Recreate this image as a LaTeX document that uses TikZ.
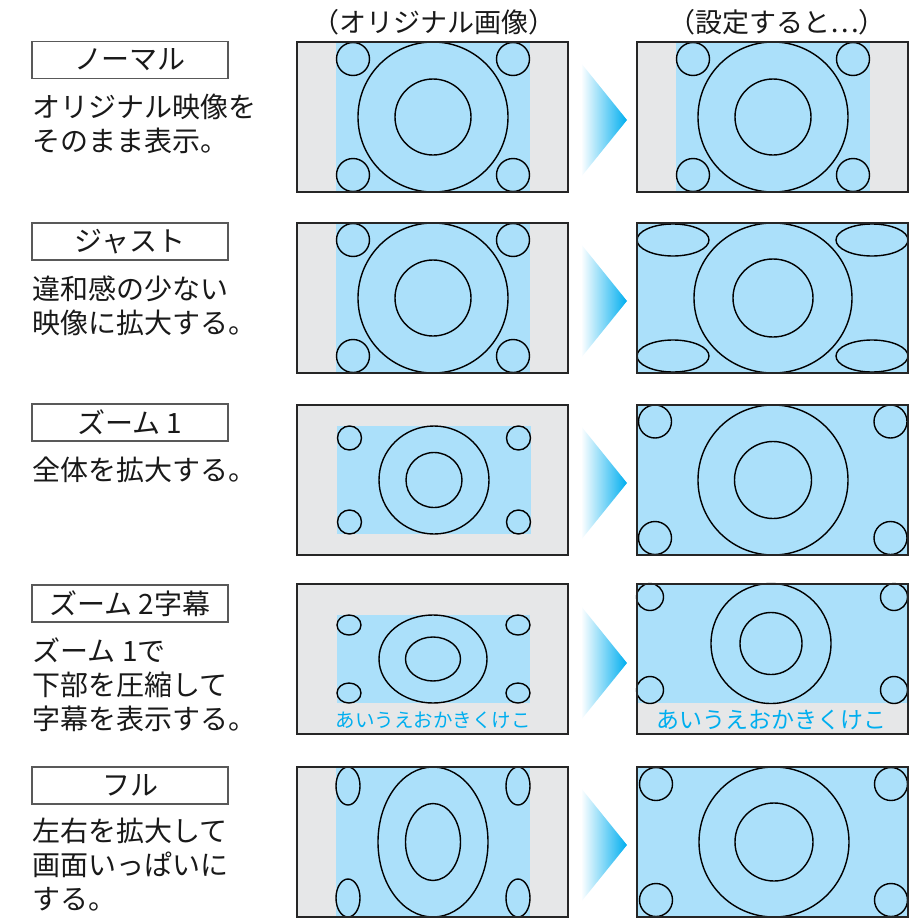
\documentclass[tikz,border=0pt]{standalone}
\usepackage{fontspec}
\setmainfont{Noto Sans CJK JP}
\usepackage{tikz}
\usetikzlibrary{positioning, calc}

\definecolor{picblue}{RGB}{171,224,250}
\definecolor{bargray}{RGB}{230,231,232}
\definecolor{subcyan}{RGB}{0,174,239}

\begin{document}
\begin{tikzpicture}[
    x=1pt, y=-1pt,
    modebox/.style={rectangle, draw=black!65, line width=1.2pt, minimum width=196pt, minimum height=37pt, inner sep=0pt, text=black!90, font=\fontsize{28}{28}\selectfont},
    desc/.style={align=left, inner sep=0pt, text=black!90, font=\fontsize{28}{34}\selectfont},
    colhead/.style={inner sep=0pt, text=black!90, font=\fontsize{27}{27}\selectfont},
    scrframe/.style={draw=black!85, line width=1.6pt},
    outline/.style={draw=black, line width=1.4pt},
    subtitle/.style={inner sep=0pt, text=subcyan},
    fadearrow/.style={left color=white, right color=subcyan}
]
    \useasboundingbox (0,0) rectangle (922,921);

    % Column heads
    \node [colhead] (orighead) at (434,22) {（オリジナル画像）};
    \node [colhead] (sethead) at (777,22) {（設定すると…）};

    % Mode labels and descriptions
    \node [modebox] (normal) at (130,60) {ノーマル};
    \node [desc, below right=15pt and 1pt of normal.south west] (normaldesc) {オリジナル映像を\\そのまま表示。};
    \node [modebox] (just) at (130,241.5) {ジャスト};
    \node [desc, below right=15pt and 1pt of just.south west] (justdesc) {違和感の少ない\\映像に拡大する。};
    \node [modebox] (zoomone) at (130,422.5) {ズーム 1};
    \node [desc, below right=15pt and 1pt of zoomone.south west] (zoomonedesc) {全体を拡大する。};
    \node [modebox] (zoomtwo) at (130,603.5) {ズーム 2字幕};
    \node [desc, below right=15pt and 1pt of zoomtwo.south west] (zoomtwodesc) {ズーム 1で\\下部を圧縮して\\字幕を表示する。};
    \node [modebox] (full) at (130,785.5) {フル};
    \node [desc, below right=13pt and 1pt of full.south west] (fulldesc) {左右を拡大して\\画面いっぱいに\\する。};

    % Normal screens
    \fill [bargray] (297,42) rectangle (568,192);
    \fill [picblue] (336,42) rectangle (530,192);
    \draw [outline] (433,117) circle [radius=75] (433,117) circle [radius=38];
    \draw [outline] (353,59) circle [radius=16.5] (513,59) circle [radius=16.5] (353,175) circle [radius=16.5] (513,175) circle [radius=16.5];
    \draw [scrframe] (297,42) rectangle (568,192);
    \shade [fadearrow] (581,63) -- (581,177) -- (627,120) -- cycle;
    \fill [bargray] (637,42) rectangle (908,192);
    \fill [picblue] (676,42) rectangle (870,192);
    \draw [outline] (773,117) circle [radius=75] (773,117) circle [radius=38];
    \draw [outline] (693,59) circle [radius=16.5] (853,59) circle [radius=16.5] (693,175) circle [radius=16.5] (853,175) circle [radius=16.5];
    \draw [scrframe] (637,42) rectangle (908,192);

    % Just screens
    \fill [bargray] (297,223) rectangle (568,373);
    \fill [picblue] (336,223) rectangle (530,373);
    \draw [outline] (433,298) circle [radius=75] (433,298) circle [radius=38];
    \draw [outline] (353,240) circle [radius=16.5] (513,240) circle [radius=16.5] (353,356) circle [radius=16.5] (513,356) circle [radius=16.5];
    \draw [scrframe] (297,223) rectangle (568,373);
    \shade [fadearrow] (581,244) -- (581,358) -- (627,301) -- cycle;
    \fill [picblue] (637,223) rectangle (908,373);
    \draw [outline] (773,298) ellipse [x radius=79, y radius=75] (773,298) ellipse [x radius=40, y radius=39];
    \draw [outline] (673,240) ellipse [x radius=36, y radius=16] (872,240) ellipse [x radius=36, y radius=16] (673,356) ellipse [x radius=36, y radius=16] (872,356) ellipse [x radius=36, y radius=16];
    \draw [scrframe] (637,223) rectangle (908,373);

    % Zoom 1 screens
    \fill [bargray] (297,405) rectangle (568,555);
    \fill [picblue] (337,426) rectangle (531,534);
    \draw [outline] (434,480) ellipse [x radius=55, y radius=54] (434,480) ellipse [x radius=28, y radius=27.5];
    \draw [outline] (349.5,438) circle [radius=12] (518.5,438) circle [radius=12] (349.5,522) circle [radius=12] (518.5,522) circle [radius=12];
    \draw [scrframe] (297,405) rectangle (568,555);
    \shade [fadearrow] (581,426) -- (581,540) -- (627,483) -- cycle;
    \fill [picblue] (637,405) rectangle (908,555);
    \draw [outline] (773,480) circle [radius=75] (773,480) circle [radius=38.5];
    \draw [outline] (655,421.5) circle [radius=16.5] (890.5,421.5) circle [radius=16.5] (655,538) circle [radius=16.5] (890.5,538) circle [radius=16.5];
    \draw [scrframe] (637,405) rectangle (908,555);

    % Zoom 2 screens
    \fill [bargray] (297,584) rectangle (568,734);
    \fill [picblue] (337,615) rectangle (530,703);
    \draw [outline] (433,659) ellipse [x radius=54, y radius=44] (433,659) ellipse [x radius=27.5, y radius=22];
    \draw [outline] (349,625) ellipse [x radius=12, y radius=10] (518,625) ellipse [x radius=12, y radius=10] (349,693) ellipse [x radius=12, y radius=10] (518,693) ellipse [x radius=12, y radius=10];
    \node [subtitle, font=\fontsize{19.5}{19.5}\selectfont] (subleft) at (433,720) {あいうえおかきくけこ};
    \draw [scrframe] (297,584) rectangle (568,734);
    \shade [fadearrow] (581,606) -- (581,720) -- (627,663) -- cycle;
    \fill [bargray] (637,584) rectangle (908,734);
    \fill [picblue] (637,584) rectangle (908,703);
    \draw [outline] (771,643.5) circle [radius=60] (771,643.5) circle [radius=31];
    \draw [outline] (650,597) circle [radius=13.5] (894,597) circle [radius=13.5] (650,690) circle [radius=13.5] (894,690) circle [radius=13.5];
    \node [subtitle, font=\fontsize{23}{23}\selectfont] (subright) at (771,720) {あいうえおかきくけこ};
    \draw [scrframe] (637,584) rectangle (908,734);

    % Full screens
    \fill [bargray] (297,767) rectangle (568,917);
    \fill [picblue] (336,767) rectangle (530,917);
    \draw [outline] (433,842) ellipse [x radius=55, y radius=75] (433,842) ellipse [x radius=27.5, y radius=38.5];
    \draw [outline] (348,786) ellipse [x radius=12, y radius=19] (518,786) ellipse [x radius=12, y radius=19] (348,898) ellipse [x radius=12, y radius=19] (518,898) ellipse [x radius=12, y radius=19];
    \draw [scrframe] (297,767) rectangle (568,917);
    \shade [fadearrow] (581,788) -- (581,902) -- (627,845) -- cycle;
    \fill [picblue] (637,767) rectangle (908,917);
    \draw [outline] (774,842) circle [radius=75] (774,842) circle [radius=39];
    \draw [outline] (656,784) circle [radius=16.5] (891,784) circle [radius=16.5] (656,900) circle [radius=16.5] (891,900) circle [radius=16.5];
    \draw [scrframe] (637,767) rectangle (908,917);
\end{tikzpicture}
\end{document}
